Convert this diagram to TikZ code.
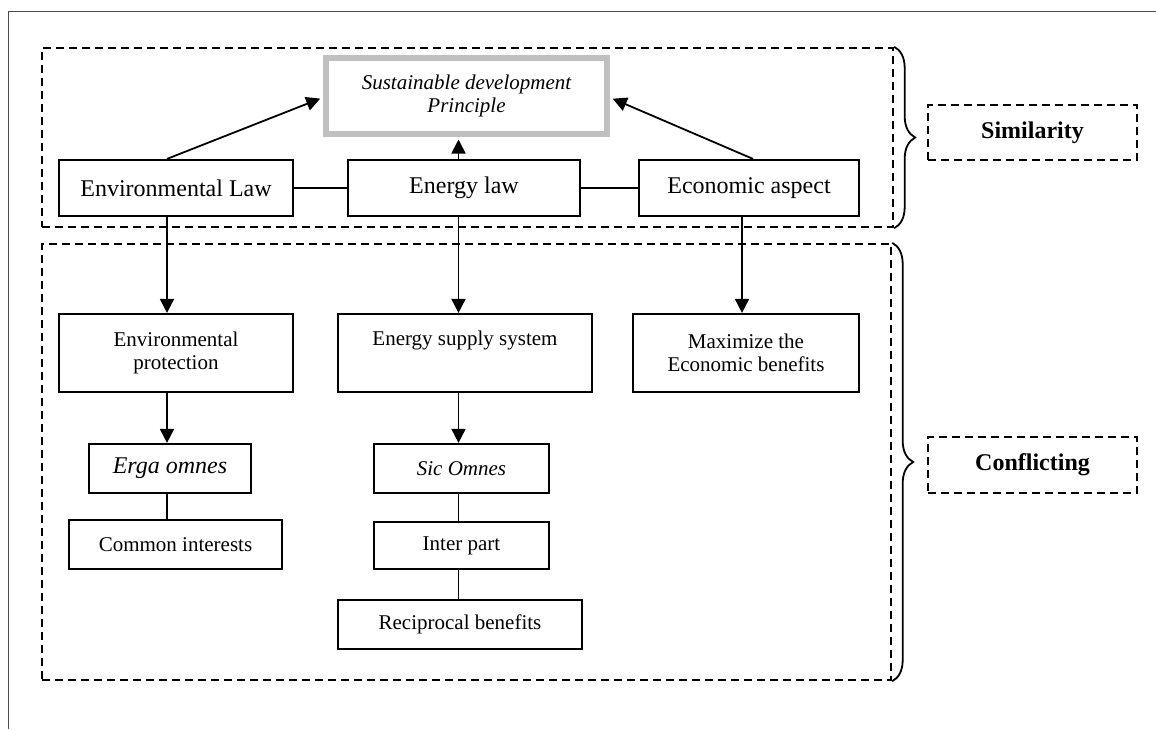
\documentclass[tikz,border=0pt]{standalone}
\usepackage{fontspec}
\setmainfont{Liberation Serif}
\usetikzlibrary{arrows.meta,positioning,decorations.pathreplacing}
\definecolor{sdpgray}{RGB}{192,192,192}

\begin{document}
\begin{tikzpicture}[
    x=0.5pt, y=-0.5pt,
    font=\fontsize{12}{14}\selectfont,
    box/.style={draw, line width=1.1pt, align=center, inner sep=0pt},
    small/.style={font=\fontsize{10.5}{11.5}\selectfont},
    grp/.style={draw, line width=1.2pt, dash pattern=on 4pt off 2.5pt, inner sep=0pt},
    tag/.style={grp, font=\bfseries\fontsize{12}{14}\selectfont},
    line/.style={line width=0.9pt},
    arr/.style={line, -{Triangle[length=7pt,width=7pt]}},
    brc/.style={line, decorate, decoration={brace, amplitude=10.5pt}},
  ]
    \useasboundingbox (0,0) rectangle (1156,729);
    \draw[black!70, line width=0.5pt] (1156,11) -- (8,11) -- (8,729);

    \node[grp, minimum width=425.5pt, minimum height=89.5pt] (simgrp) at (467.5,137.5) {};
    \node[grp, minimum width=424.5pt, minimum height=218pt] (congrp) at (466.5,462) {};
    \node[tag, minimum width=104.5pt, minimum height=27.5pt] (simtag) at (1032.5,132.5) {Similarity};
    \node[tag, minimum width=104.5pt, minimum height=28pt] (contag) at (1032.5,465) {Conflicting};

    \node[box, draw=sdpgray, line width=3pt, minimum width=140.5pt, minimum height=38pt,
      font=\itshape\fontsize{10.5}{11.5}\selectfont] (sdp) at (466.5,95.5) {Sustainable development\\Principle};
    \node[box, minimum width=117pt, minimum height=28pt] (envlaw) at (176,188) {Environmental Law};
    \node[box, minimum width=116pt, minimum height=28pt] (enlaw) at (464,188) {Energy law};
    \node[box, minimum width=110pt, minimum height=28pt] (ecoasp) at (749,188) {Economic aspect};

    \node[box, small, minimum width=117pt, minimum height=39pt] (envpro) at (176,353) {Environmental\\protection};
    \node[box, small, minimum width=127pt, minimum height=39pt] (ensup) at (465,353) {Energy supply system\\\strut};
    \node[box, small, minimum width=113pt, minimum height=39pt] (maxeco) at (746,353) {Maximize the\\Economic benefits};

    \node[box, font=\itshape\fontsize{12}{14}\selectfont, minimum width=81pt, minimum height=24.5pt] (erga) at (170,468.5) {Erga omnes};
    \node[box, small, minimum width=106.5pt, minimum height=24.5pt] (common) at (175.5,544.5) {Common interests};
    \node[box, font=\itshape\fontsize{10.5}{11.5}\selectfont, minimum width=87.5pt, minimum height=24.5pt] (sic) at (461.5,468.5) {Sic Omnes};
    \node[box, small, minimum width=87.5pt, minimum height=23.5pt] (inter) at (461.5,545.5) {Inter part};
    \node[box, small, minimum width=122pt, minimum height=24.5pt] (recip) at (460,624.5) {Reciprocal benefits};

    \coordinate (colA) at (167,0);
    \coordinate (colB) at (458.5,0);
    \coordinate (colC) at (742,0);

    \draw[arr, shorten >=1.5pt] (envlaw.north -| colA) -- ([yshift=-1pt]sdp.west);
    \draw[arr, shorten >=1.5pt] (enlaw.north -| colB) -- (sdp.south -| colB);
    \draw[arr, shorten >=1.5pt] ([xshift=2pt]ecoasp.north) -- ([yshift=-1pt]sdp.east);
    \draw[line] (envlaw) -- (enlaw);
    \draw[line] (enlaw) -- (ecoasp);

    \draw[arr] (envlaw.south -| colA) -- (envpro.north -| colA);
    \draw[arr] (enlaw.south -| colB) -- (ensup.north -| colB);
    \draw[arr] (ecoasp.south -| colC) -- (maxeco.north -| colC);
    \draw[arr] (envpro.south -| colA) -- (erga.north -| colA);
    \draw[line] (erga.south -| colA) -- (common.north -| colA);
    \draw[arr] (ensup.south -| colB) -- (sic.north -| colB);
    \draw[line] (sic.south -| colB) -- (inter.north -| colB);
    \draw[line] (inter.south -| colB) -- (recip.north -| colB);

    \draw[brc] (simgrp.north east) -- (simgrp.south east);
    \draw[brc] (congrp.north east) -- (congrp.south east);
  \end{tikzpicture}
\end{document}
